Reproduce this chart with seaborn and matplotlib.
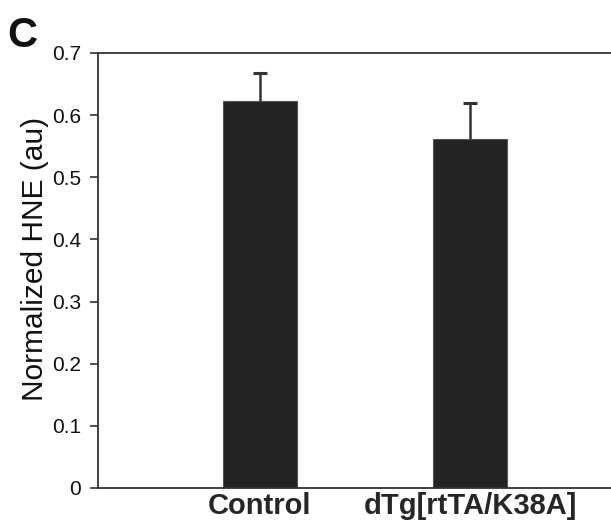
import pandas as pd
import numpy as np
import matplotlib.pyplot as plt
import seaborn as sns

groups = ["Control", "dTg[rtTA/K38A]"]
hne_mean = [0.623, 0.561]
hne_sem = [0.044, 0.059]

sns.set_style("ticks")
plt.rcParams['font.family'] = ['Liberation Sans', 'DejaVu Sans']

df = pd.DataFrame({"group": groups, "hne": hne_mean})

fig = plt.figure(figsize=(6.11, 5.25), dpi=100)
ax = fig.add_axes([0.1604, 0.0705, 0.8396, 0.8286])

sns.barplot(x="group", y="hne", data=df, color="#232323", width=0.35,
            edgecolor="#555555", linewidth=0.8, errorbar=None, ax=ax, saturation=1)
# upper-only error bars, drop the lower cap
_, caps, _ = ax.errorbar(np.arange(len(groups)), hne_mean,
                         yerr=[np.zeros(len(groups)), hne_sem],
                         fmt="none", ecolor="#333333", elinewidth=1.8, capsize=5, capthick=2.2)
caps[0].set_visible(False)

ax.set_xlim(-0.771, 1.671)
ax.set_ylim(0, 0.7)
ax.set_yticks(np.arange(0, 0.71, 0.1))
ax.set_yticklabels(["0", "0.1", "0.2", "0.3", "0.4", "0.5", "0.6", "0.7"])
ax.tick_params(axis="y", direction="out", length=6, width=1.2, labelsize=15, pad=6, colors="#333333", labelcolor="#111111")
ax.tick_params(axis="x", length=0, labelsize=21, pad=3)
for lbl in ax.get_xticklabels():
    lbl.set_fontweight("bold")

ax.set_xlabel("")
ax.set_ylabel("Normalized HNE (au)", fontsize=21.5, color="#111111")
ax.yaxis.set_label_coords(-0.095, 0.526)

ax.spines["right"].set_visible(False)
for s in ["left", "bottom", "top"]:
    ax.spines[s].set_linewidth(1.3)
    ax.spines[s].set_color("#333333")

fig.text(0.012, 0.91, "C", fontsize=30, fontweight="bold", color="#111111")

fig.savefig("out.png", dpi=100)
